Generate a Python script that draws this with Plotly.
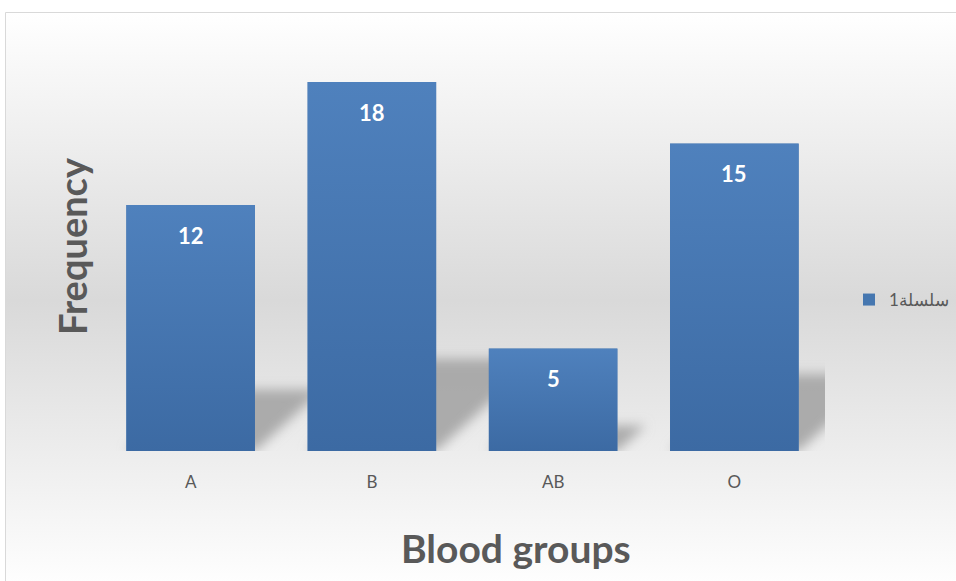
import base64
import plotly.graph_objects as go

# Blood group frequencies
groups = ["A", "B", "AB", "O"]
frequency = [12, 18, 5, 15]
series_name = "سلسلة1"

W, H = 956, 581
# plot area in pixels (left, right, top, bottom)
PX_L, PX_R, PX_T, PX_B = 100, 825, 41, 451
Y_MAX = 20
BAR_W = 0.71  # bar width in category units

px_per_cat = (PX_R - PX_L) / len(groups)
px_per_val = (PX_B - PX_T) / Y_MAX

FONT = "Lato, 'Open Sans', sans-serif"
GREY_TXT = "#595959"


def svg_uri(svg):
    return "data:image/svg+xml;base64," + base64.b64encode(svg.encode()).decode()


# chart-area background: white -> grey -> white vertical gradient
bg_svg = (
    '<svg xmlns="http://www.w3.org/2000/svg" width="100" height="100" '
    'viewBox="0 0 100 100" preserveAspectRatio="none">'
    '<defs><linearGradient id="g" x1="0" y1="0" x2="0" y2="1">'
    '<stop offset="0" stop-color="#ffffff"/>'
    '<stop offset="0.5" stop-color="#d9d9d9"/>'
    '<stop offset="1" stop-color="#ffffff"/>'
    '</linearGradient></defs>'
    '<rect width="100" height="100" fill="url(#g)"/></svg>'
)

# bar fill: lighter blue at top, darker at bottom
bar_svg = (
    '<svg xmlns="http://www.w3.org/2000/svg" width="100" height="100" '
    'viewBox="0 0 100 100" preserveAspectRatio="none">'
    '<defs><linearGradient id="b" x1="0" y1="0" x2="0" y2="1">'
    '<stop offset="0" stop-color="#4f81bd"/>'
    '<stop offset="1" stop-color="#3c6aa3"/>'
    '</linearGradient></defs>'
    '<rect width="100" height="100" fill="url(#b)"/></svg>'
)


def shadow_svg(w, sh, skew, pad):
    vw, vh = w + skew + 2 * pad, sh + 2 * pad
    pts = [
        (pad, pad + sh),
        (pad + w, pad + sh),
        (pad + w + skew, pad),
        (pad + skew, pad),
    ]
    p = " ".join(f"{x:.1f},{y:.1f}" for x, y in pts)
    return (
        f'<svg xmlns="http://www.w3.org/2000/svg" width="{vw:.1f}" height="{vh:.1f}" '
        f'viewBox="0 0 {vw:.1f} {vh:.1f}" preserveAspectRatio="none">'
        '<defs><filter id="f" x="-50%" y="-50%" width="200%" height="200%">'
        '<feGaussianBlur stdDeviation="6"/></filter></defs>'
        f'<polygon points="{p}" fill="#a8a8a8" fill-opacity="0.95" filter="url(#f)"/></svg>'
    )


images = [
    dict(
        source=svg_uri(bg_svg), xref="paper", yref="paper",
        x=5 / W, y=1 - 12 / H, sizex=1.0, sizey=(590 - 12) / H,
        xanchor="left", yanchor="top", sizing="stretch", layer="below",
    )
]

bar_w_px = BAR_W * px_per_cat
for i, v in enumerate(frequency):
    h_px = v * px_per_val
    sh = 0.25 * h_px
    skew = 1.1 * sh
    pad = 16
    images.append(dict(
        source=svg_uri(shadow_svg(bar_w_px, sh, skew, pad)), xref="x", yref="y",
        x=i - BAR_W / 2 - pad / px_per_cat, y=(sh + pad) / px_per_val,
        sizex=(bar_w_px + skew + 2 * pad) / px_per_cat,
        sizey=(sh + 2 * pad) / px_per_val,
        xanchor="left", yanchor="top", sizing="stretch", layer="below",
    ))
    images.append(dict(
        source=svg_uri(bar_svg), xref="x", yref="y",
        x=i - BAR_W / 2, y=v, sizex=BAR_W, sizey=v,
        xanchor="left", yanchor="top", sizing="stretch", layer="above",
    ))

fig = go.Figure(go.Bar(
    x=groups, y=frequency, name=series_name,
    marker=dict(color="#4677b0", line=dict(width=0)),
    showlegend=True,
))

annotations = [
    dict(
        x=g, y=v, xref="x", yref="y", text=f"<b>{v}</b>", showarrow=False,
        xanchor="center", yanchor="middle", yshift=-30,
        font=dict(family=FONT, size=22, color="white"),
    )
    for g, v in zip(groups, frequency)
]
annotations += [
    dict(
        x=72 / W, y=1 - 246 / H, xref="paper", yref="paper",
        xanchor="center", yanchor="middle",
        text="<b>Frequency</b>", textangle=-90, showarrow=False,
        font=dict(family=FONT, size=38, color=GREY_TXT),
    ),
    dict(
        x=516 / W, y=1 - 548 / H, xref="paper", yref="paper",
        xanchor="center", yanchor="middle",
        text="<b>Blood groups</b>", showarrow=False,
        font=dict(family=FONT, size=39, color=GREY_TXT),
    ),
]

fig.update_layout(
    width=W, height=H,
    margin=dict(l=0, r=0, t=0, b=0),
    paper_bgcolor="white",
    plot_bgcolor="rgba(0,0,0,0)",
    bargap=1 - BAR_W,
    images=images,
    annotations=annotations,
    shapes=[dict(
        type="rect", xref="paper", yref="paper",
        x0=5.5 / W, x1=1.05, y0=-0.05, y1=1 - 12.5 / H,
        line=dict(color="#d9d9d9", width=1), fillcolor="rgba(0,0,0,0)",
        layer="above",
    )],
    xaxis=dict(
        domain=[PX_L / W, PX_R / W],
        showgrid=False, zeroline=False, showline=False,
        ticks="outside", ticklen=16, tickcolor="rgba(0,0,0,0)",
        tickfont=dict(family=FONT, size=17, color=GREY_TXT),
    ),
    yaxis=dict(
        domain=[1 - PX_B / H, 1 - PX_T / H], range=[0, Y_MAX],
        showgrid=False, zeroline=False, showline=False, showticklabels=False,
    ),
    legend=dict(
        x=849 / W, y=1 - 300 / H, xanchor="left", yanchor="middle",
        bgcolor="rgba(0,0,0,0)", itemwidth=30,
        font=dict(family=FONT, size=17, color=GREY_TXT),
    ),
)

fig.write_html("out.html")
